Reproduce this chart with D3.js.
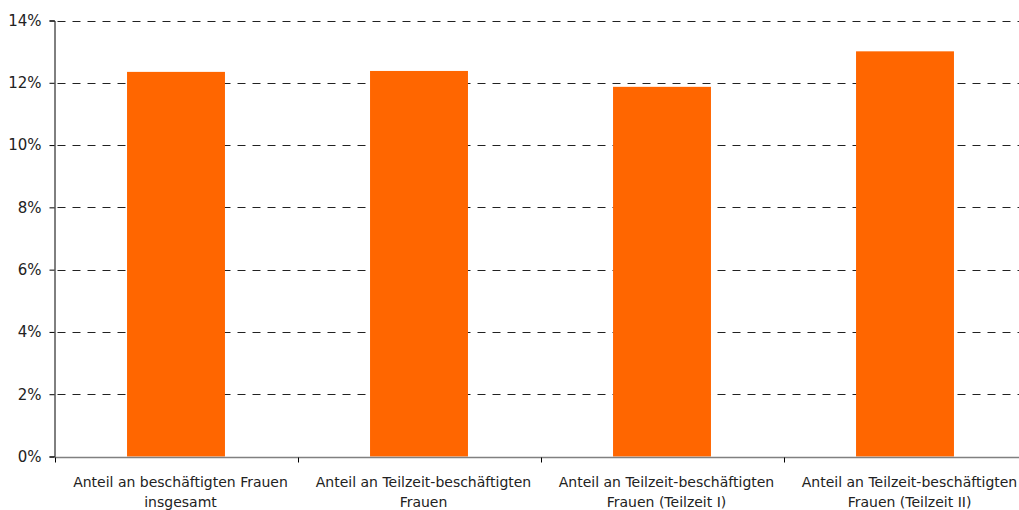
<!DOCTYPE html>
<html>
<head>
<meta charset="utf-8">
<script src="https://cdn.jsdelivr.net/npm/d3@7"></script>
<style>
  body { margin: 0; background: #fff; }
  svg { display: block; }
</style>
</head>
<body>
<svg id="chart"></svg>
<script>
// chart values
var categories = [
    ["Anteil an beschäftigten Frauen", "insgesamt"],
    ["Anteil an Teilzeit-beschäftigten", "Frauen"],
    ["Anteil an Teilzeit-beschäftigten", "Frauen (Teilzeit I)"],
    ["Anteil an Teilzeit-beschäftigten", "Frauen (Teilzeit II)"]
]
var values = [0.1235, 0.1238, 0.1187, 0.1301]
var yTicks = [0, 0.02, 0.04, 0.06, 0.08, 0.10, 0.12, 0.14]

var dimensions = {
    width: 1019,
    height: 510,
    margin: {
        top: 20.5,
        bottom: 53.5,
        right: -7.5,
        left: 54.5
    }
}

var svg = d3.select("#chart")
    .attr("width", dimensions.width)
    .attr("height", dimensions.height)

var xScale = d3.scaleBand()
    .domain(d3.range(categories.length))
    .range([dimensions.margin.left, dimensions.width - dimensions.margin.right])
    .paddingInner(0.597)
    .paddingOuter(0.2985)

var yScale = d3.scaleLinear()
    .domain([0, 0.14])
    .range([dimensions.height - dimensions.margin.bottom, dimensions.margin.top])

var fontFam = "'DejaVu Sans', Verdana, sans-serif"

// dashed gridlines
svg.append("g")
    .selectAll("line")
    .data(yTicks.filter(d => d > 0))
    .join("line")
    .attr("x1", dimensions.margin.left)
    .attr("x2", dimensions.width)
    .attr("y1", d => Math.round(yScale(d)) + 0.5)
    .attr("y2", d => Math.round(yScale(d)) + 0.5)
    .attr("stroke", "#222")
    .attr("stroke-width", 1)
    .attr("stroke-dasharray", "8,7")
    .attr("stroke-dashoffset", -3)

// bars
svg.append("g")
    .selectAll("rect")
    .data(values)
    .join("rect")
    .attr("x", (d, i) => xScale(i))
    .attr("width", xScale.bandwidth())
    .attr("y", d => yScale(d))
    .attr("height", d => yScale(0) - yScale(d))
    .attr("fill", "#ff6600")

// y axis
var yAxisGen = d3.axisLeft(yScale)
    .tickValues(yTicks)
    .tickFormat(d => Math.round(d * 100) + "%")
    .tickSize(5)
    .tickPadding(8)

var yAxis = svg.append("g")
    .attr("transform", "translate(" + dimensions.margin.left + ",0)")
    .call(yAxisGen)
yAxis.select(".domain").attr("stroke", "#000")
yAxis.selectAll(".tick line").attr("stroke", "#000")
yAxis.selectAll("text")
    .style("font-family", fontFam)
    .style("font-size", "15px")
    .attr("fill", "#222")

// x axis line (gray) with ticks at band boundaries
var baseY = Math.round(yScale(0)) + 0.5
var xAxis = svg.append("g")
xAxis.append("line")
    .attr("x1", dimensions.margin.left)
    .attr("x2", dimensions.width)
    .attr("y1", baseY)
    .attr("y2", baseY)
    .attr("stroke", "#808080")
    .attr("stroke-width", 1.5)

var step = xScale.step()
xAxis.selectAll(".xtick")
    .data(d3.range(categories.length + 1))
    .join("line")
    .attr("class", "xtick")
    .attr("x1", i => Math.round(dimensions.margin.left + i * step) + 0.5)
    .attr("x2", i => Math.round(dimensions.margin.left + i * step) + 0.5)
    .attr("y1", baseY)
    .attr("y2", baseY + 5)
    .attr("stroke", "#000")

// category labels, two lines each (slightly right of the bar centre, like the original)
var labels = xAxis.selectAll(".xlabel")
    .data(categories)
    .join("text")
    .attr("class", "xlabel")
    .attr("x", (d, i) => xScale(i) + xScale.bandwidth() / 2 + 4.5)
    .attr("y", baseY + 29)
    .attr("text-anchor", "middle")
    .style("font-family", fontFam)
    .style("font-size", "14px")
    .attr("fill", "#222")

labels.selectAll("tspan")
    .data(d => d)
    .join("tspan")
    .attr("x", function() { return this.parentNode.getAttribute("x") })
    .attr("dy", (d, i) => i == 0 ? 0 : 20)
    .text(d => d)
</script>
</body>
</html>
